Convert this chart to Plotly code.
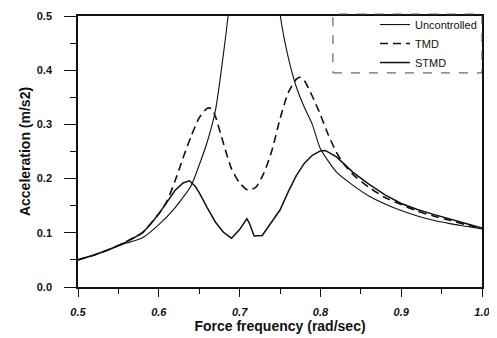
import plotly.graph_objects as go

# Uncontrolled response (tall resonance peak, clipped at top)
unc_f = [0.50, 0.52, 0.54, 0.56, 0.58, 0.60, 0.62, 0.64, 0.65, 0.66, 0.67, 0.68, 0.69, 0.70, 0.72,
         0.745, 0.75, 0.76, 0.77, 0.78, 0.79, 0.80, 0.82, 0.84, 0.86, 0.88, 0.90, 0.92, 0.94, 0.96, 0.98, 1.00]
unc_a = [0.050, 0.059, 0.070, 0.081, 0.091, 0.115, 0.146, 0.187, 0.225, 0.268, 0.325, 0.430, 0.560, 0.800, 1.000,
         0.600, 0.505, 0.425, 0.370, 0.332, 0.300, 0.255, 0.212, 0.188, 0.168, 0.153, 0.141, 0.131, 0.123, 0.117, 0.112, 0.107]

# TMD
tmd_f = [0.50, 0.52, 0.54, 0.56, 0.58, 0.60, 0.61, 0.62, 0.63, 0.64, 0.65, 0.66, 0.665, 0.67, 0.68, 0.69,
         0.70, 0.71, 0.72, 0.73, 0.74, 0.75, 0.76, 0.77, 0.775, 0.78, 0.79, 0.80, 0.81, 0.82, 0.83, 0.84,
         0.86, 0.88, 0.90, 0.92, 0.94, 0.96, 0.98, 1.00]
tmd_a = [0.050, 0.059, 0.070, 0.084, 0.101, 0.135, 0.158, 0.195, 0.238, 0.278, 0.312, 0.330, 0.329, 0.315, 0.265, 0.218,
         0.192, 0.179, 0.184, 0.210, 0.252, 0.310, 0.358, 0.383, 0.387, 0.381, 0.352, 0.318, 0.280, 0.248, 0.225, 0.208,
         0.184, 0.165, 0.152, 0.140, 0.131, 0.123, 0.115, 0.108]

# STMD
stmd_f = [0.50, 0.52, 0.54, 0.56, 0.58, 0.59, 0.60, 0.61, 0.62, 0.63, 0.638, 0.645, 0.65, 0.66, 0.67, 0.68, 0.69,
          0.70, 0.709, 0.712, 0.718, 0.728, 0.74, 0.75, 0.76, 0.77, 0.78, 0.79, 0.80, 0.806, 0.82, 0.83,
          0.84, 0.86, 0.88, 0.90, 0.92, 0.94, 0.96, 0.98, 1.00]
stmd_a = [0.050, 0.059, 0.070, 0.083, 0.100, 0.116, 0.135, 0.157, 0.178, 0.192, 0.196, 0.186, 0.174, 0.146, 0.120, 0.101, 0.090,
          0.106, 0.126, 0.118, 0.094, 0.095, 0.120, 0.142, 0.175, 0.205, 0.228, 0.243, 0.251, 0.252, 0.240, 0.226,
          0.212, 0.190, 0.170, 0.154, 0.143, 0.134, 0.125, 0.117, 0.109]

x_ticks = [0.5, 0.6, 0.7, 0.8, 0.9, 1.0]
y_ticks = [0.0, 0.1, 0.2, 0.3, 0.4, 0.5]

FONT = "Liberation Sans, Arial, sans-serif"

fig = go.Figure()
fig.add_trace(go.Scatter(x=unc_f, y=unc_a, mode="lines", name="Uncontrolled",
                         line=dict(color="#111", width=1.1, shape="spline", smoothing=0.6)))
fig.add_trace(go.Scatter(x=tmd_f, y=tmd_a, mode="lines", name="TMD",
                         line=dict(color="#111", width=1.6, dash="8px,5px", shape="spline", smoothing=0.6)))
fig.add_trace(go.Scatter(x=stmd_f, y=stmd_a, mode="lines", name="STMD",
                         line=dict(color="#111", width=1.5)))

# page body adds an 8px margin, so the figure is sized/offset to compensate
fig.update_layout(
    width=489, height=330,
    margin=dict(l=70, r=15, t=8, b=51, autoexpand=False),
    paper_bgcolor="white", plot_bgcolor="white",
    font=dict(family=FONT, color="#111"),
    showlegend=True,
    legend=dict(x=1, y=1.022, xanchor="right", yanchor="top",
                bgcolor="rgba(255,255,255,0)", borderwidth=0,
                font=dict(size=11, family=FONT), tracegroupgap=0, itemwidth=30),
    xaxis=dict(range=[0.5, 1.0], tickvals=x_ticks, ticktext=[f"{v:.1f}" for v in x_ticks],
               ticks="outside", ticklen=8, tickwidth=1.2, tickcolor="#111",
               showline=True, linecolor="#111", linewidth=1.5, mirror=True,
               showgrid=False, zeroline=False, ticklabelstandoff=6,
               tickfont=dict(size=11, weight="bold", style="italic", family=FONT),
               minor=dict(dtick=0.05, tick0=0.5, ticks="outside", ticklen=5, tickwidth=1.2, tickcolor="#111", showgrid=False),
               title=dict(text="Force frequency (rad/sec)", standoff=2,
                          font=dict(size=14, weight="bold", family=FONT))),
    yaxis=dict(range=[0, 0.5], tickvals=y_ticks, ticktext=[f"{v:.1f}" for v in y_ticks],
               ticks="outside", ticklen=12, tickwidth=1.2, tickcolor="#111",
               showline=True, linecolor="#111", linewidth=1.5, mirror=True,
               showgrid=False, zeroline=False, ticklabelstandoff=10,
               tickfont=dict(size=11, weight="bold", family=FONT),
               minor=dict(dtick=0.05, tick0=0, ticks="outside", ticklen=6, tickwidth=1.2, tickcolor="#111", showgrid=False),
               title=dict(text="Acceleration (m/s2)", standoff=3,
                          font=dict(size=14, weight="bold", family=FONT))),
)

# dashed legend frame
fig.add_shape(type="rect", xref="paper", yref="paper", x0=0.631, x1=1.0, y0=0.79, y1=1.007,
              line=dict(color="#444", width=1, dash="dash"), fillcolor="rgba(0,0,0,0)")

fig.write_html("out.html")
